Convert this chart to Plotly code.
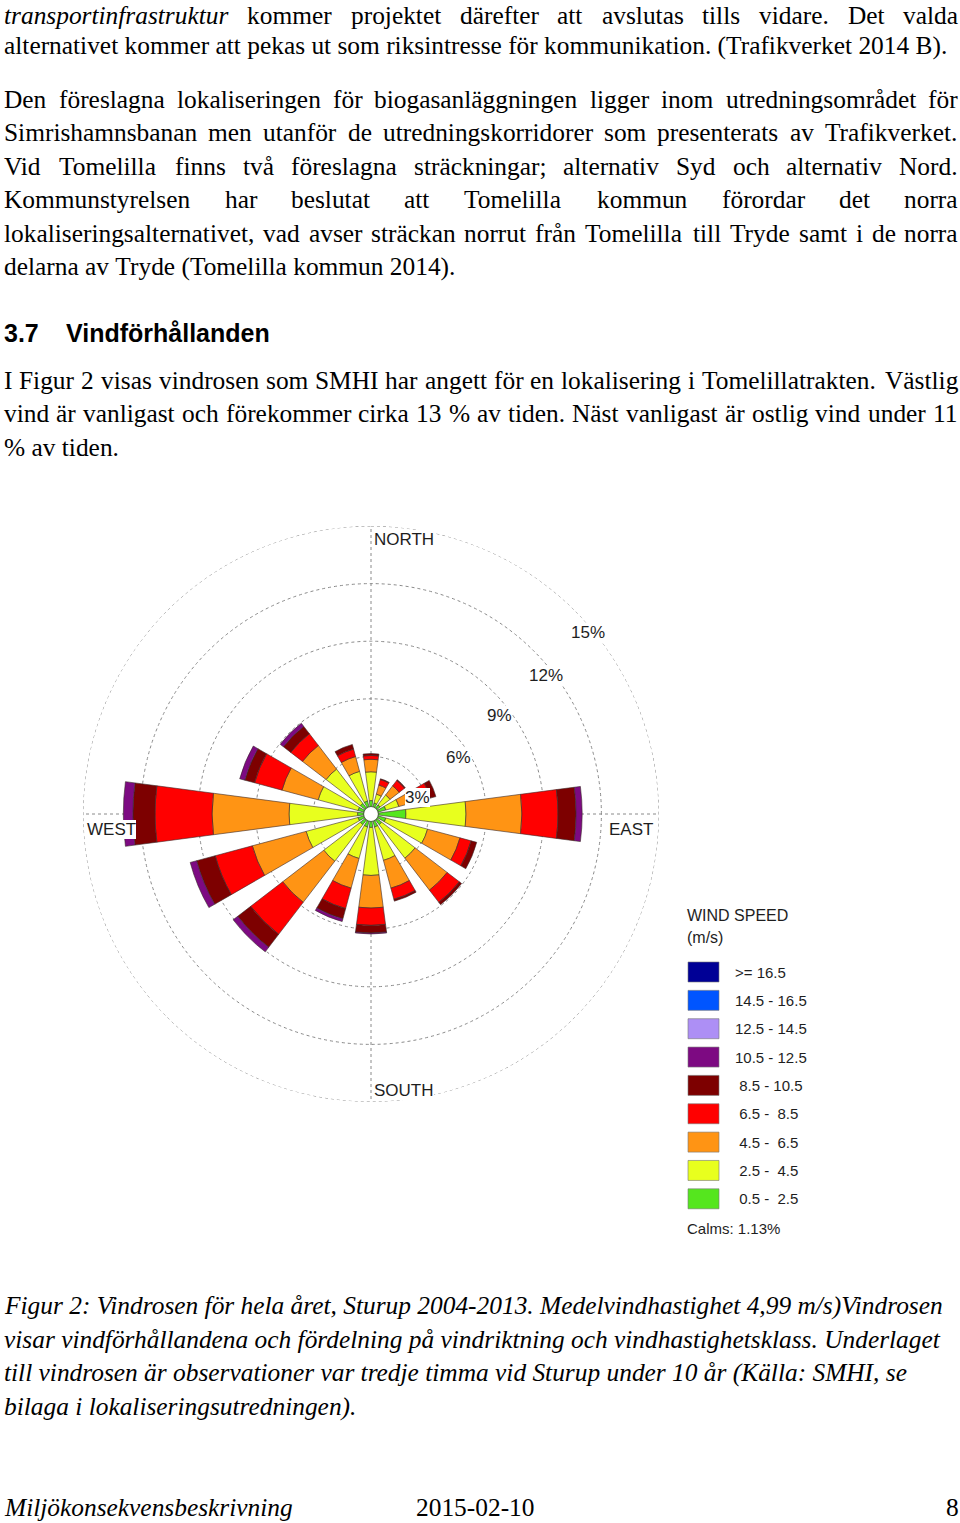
import plotly.graph_objects as go

W, H = 960, 1523

# ---------------- data ----------------
directions = ["N", "NNE", "NE", "ENE", "E", "ESE", "SE", "SSE",
              "S", "SSW", "SW", "WSW", "W", "WNW", "NW", "NNW"]
theta_deg = [0, 22.5, 45, 67.5, 90, 112.5, 135, 157.5,
             180, 202.5, 225, 247.5, 270, 292.5, 315, 337.5]

speed_labels = [">= 16.5", "14.5 - 16.5", "12.5 - 14.5", "10.5 - 12.5",
                " 8.5 - 10.5", " 6.5 -  8.5", " 4.5 -  6.5", " 2.5 -  4.5", " 0.5 -  2.5"]
speed_colors = ["#000096", "#0055ff", "#ad8ff5", "#7d0a82", "#7d0000",
                "#ff0000", "#ff9414", "#e8ff1e", "#55e61e"]

# frequency (% of time) per direction and speed class
f_0_5_2_5 = [0.70, 0.60, 0.60, 0.80, 1.82, 0.80, 0.70, 0.70, 0.70, 0.70, 0.70, 0.70, 0.70, 0.70, 0.70, 0.70]
f_2_5_4_5 = [1.50, 0.47, 0.65, 0.70, 3.13, 2.25, 2.20, 1.80, 2.50, 1.70, 2.40, 2.80, 3.57, 2.15, 2.25, 1.60]
f_4_5_6_5 = [0.65, 0.49, 0.60, 0.90, 2.91, 1.75, 2.10, 1.50, 1.70, 1.60, 2.70, 2.90, 4.01, 1.95, 1.55, 0.80]
f_6_5_8_5 = [0.20, 0.30, 0.35, 0.80, 1.88, 0.60, 0.80, 0.60, 0.90, 1.10, 2.10, 2.00, 2.97, 1.48, 0.77, 0.40]
f_8_5_10_5 = [0.10, 0.04, 0.05, 0.30, 0.94, 0.30, 0.15, 0.10, 0.40, 0.55, 0.85, 1.00, 1.15, 0.52, 0.48, 0.25]
f_10_5_12_5 = [0, 0, 0, 0, 0.32, 0, 0, 0, 0.05, 0.15, 0.30, 0.35, 0.50, 0.28, 0.21, 0]
f_12_5_14_5 = [0] * 16
f_14_5_16_5 = [0] * 16
f_16_5 = [0] * 16
calms = 1.13

radial_ticks = [3, 6, 9, 12, 15]

# low -> high speed (stack order)
series = [f_0_5_2_5, f_2_5_4_5, f_4_5_6_5, f_6_5_8_5, f_8_5_10_5,
          f_10_5_12_5, f_12_5_14_5, f_14_5_16_5, f_16_5]
series_colors = list(reversed(speed_colors))
series_names = list(reversed(speed_labels))

fig = go.Figure()

# outer dotted ring (15 %), plotly omits the grid circle at the range edge
ring_theta = list(range(0, 361, 1))
fig.add_trace(go.Scatterpolar(r=[radial_ticks[-1]] * len(ring_theta), theta=ring_theta, mode="lines",
                              line=dict(color="#8a8a8a", width=1, dash="dot"),
                              showlegend=False, hoverinfo="skip"))

for vals, col, name in zip(series, series_colors, series_names):
    fig.add_trace(go.Barpolar(
        r=vals, theta=theta_deg, width=[15] * 16, name=name,
        marker=dict(color=col, line=dict(color="#3a2a2a", width=0.6 if max(vals) > 0 else 0)),
        showlegend=False, hoverinfo="skip"))

fig.add_trace(go.Scatterpolar(r=[0], theta=[0], mode="markers",
                              marker=dict(size=15, color="white", line=dict(color="#4a6a3a", width=1.2)),
                              showlegend=False, hoverinfo="skip"))

cx, cy, R = 371, 814, 288
fig.update_layout(
    width=W, height=H, margin=dict(l=0, r=0, t=0, b=0),
    paper_bgcolor="white", plot_bgcolor="white",
    polar=dict(
        domain=dict(x=[(cx - R) / W, (cx + R) / W], y=[1 - (cy + R) / H, 1 - (cy - R) / H]),
        bgcolor="white", barmode="stack", bargap=0,
        radialaxis=dict(range=[0, 15], tickvals=radial_ticks, showticklabels=False, ticks="",
                        showline=False, gridcolor="#8a8a8a", griddash="dot", gridwidth=1),
        angularaxis=dict(rotation=90, direction="clockwise", tickvals=[0, 90, 180, 270],
                         showticklabels=False, ticks="", showline=False,
                         gridcolor="#8a8a8a", griddash="dot", gridwidth=1),
    ),
)

ann = []
shapes = []
BODY = 25.4


def px(x):
    return x / W


def py(y):
    return 1 - y / H


def add_text(x, y, text, size=BODY, family="Liberation Serif", italic=False, bold=False,
             color="black", xanchor="left", bg=None):
    t = text.replace(" ", "\u00a0")
    if bold:
        t = "<b>" + t + "</b>"
    if italic:
        t = "<i>" + t + "</i>"
    d = dict(x=px(x), y=py(y), xref="paper", yref="paper", text=t, showarrow=False,
             xanchor=xanchor, yanchor="middle", borderpad=0, borderwidth=0,
             font=dict(family=family, size=size, color=color))
    if bg:
        d["bgcolor"] = bg
    ann.append(d)


# Times (Liberation Serif metric-compatible) widths
TR = {' ': 250, '!': 333, '%': 833, '(': 333, ')': 333, ',': 250, '-': 333, '.': 250, '/': 278,
      ':': 278, ';': 278, '=': 564, '>': 564,
      'A': 722, 'B': 667, 'C': 667, 'D': 722, 'E': 611, 'F': 556, 'G': 722, 'H': 722, 'I': 333,
      'J': 389, 'K': 722, 'L': 611, 'M': 889, 'N': 722, 'O': 722, 'P': 556, 'Q': 722, 'R': 667,
      'S': 556, 'T': 611, 'U': 722, 'V': 722, 'W': 944, 'X': 722, 'Y': 722, 'Z': 611,
      'a': 444, 'b': 500, 'c': 444, 'd': 500, 'e': 444, 'f': 333, 'g': 500, 'h': 500, 'i': 278,
      'j': 278, 'k': 500, 'l': 278, 'm': 778, 'n': 500, 'o': 500, 'p': 500, 'q': 500, 'r': 333,
      's': 389, 't': 278, 'u': 500, 'v': 500, 'w': 722, 'x': 500, 'y': 500, 'z': 444,
      'å': 444, 'ä': 444, 'ö': 500, 'Å': 722, 'Ä': 722, 'Ö': 722}
for d in "0123456789":
    TR[d] = 500
TI = {' ': 250, 'a': 500, 'b': 500, 'c': 444, 'd': 500, 'e': 444, 'f': 278, 'g': 500, 'h': 500,
      'i': 278, 'j': 278, 'k': 444, 'l': 278, 'm': 722, 'n': 500, 'o': 500, 'p': 500, 'q': 500,
      'r': 389, 's': 389, 't': 278, 'u': 500, 'v': 444, 'w': 667, 'x': 444, 'y': 444, 'z': 389}


def wwidth(word, italic, size):
    tab = TI if italic else TR
    return sum(tab.get(c, 500) for c in word) * size / 1000.0


def justified(y, words, left=4, right=958, size=BODY, italic_first=False):
    widths = [wwidth(w, italic_first and i == 0, size) for i, w in enumerate(words)]
    gap = (right - left - sum(widths)) / (len(words) - 1)
    x = left
    for i, w in enumerate(words):
        add_text(x, y, w, size=size, italic=(italic_first and i == 0))
        x += widths[i] + gap


body = [
    (15, "transportinfrastruktur kommer projektet därefter att avslutas tills vidare. Det valda", True, True),
    (45, "alternativet kommer att pekas ut som riksintresse för kommunikation. (Trafikverket 2014 B).", False, False),
    (99, "Den föreslagna lokaliseringen för biogasanläggningen ligger inom utredningsområdet för", True, False),
    (132, "Simrishamnsbanan men utanför de utredningskorridorer som presenterats av Trafikverket.", True, False),
    (166, "Vid Tomelilla finns två föreslagna sträckningar; alternativ Syd och alternativ Nord.", True, False),
    (199, "Kommunstyrelsen har beslutat att Tomelilla kommun förordar det norra", True, False),
    (233, "lokaliseringsalternativet, vad avser sträckan norrut från Tomelilla till Tryde samt i de norra", True, False),
    (266, "delarna av Tryde (Tomelilla kommun 2014).", False, False),
    (380, "I Figur 2 visas vindrosen som SMHI har angett för en lokalisering i Tomelillatrakten. Västlig", True, False),
    (413, "vind är vanligast och förekommer cirka 13 % av tiden. Näst vanligast är ostlig vind under 11", True, False),
    (447, "% av tiden.", False, False),
]
for y, line, just, itf in body:
    if just:
        justified(y, line.split(" "), italic_first=itf)
    else:
        add_text(4, y, line)

add_text(4, 333, "3.7", size=25, family="Liberation Sans", bold=True)
add_text(66, 333, "Vindförhållanden", size=25, family="Liberation Sans", bold=True)

caption = [
    (1305, "Figur 2: Vindrosen för hela året, Sturup 2004-2013. Medelvindhastighet 4,99 m/s)Vindrosen"),
    (1339, "visar vindförhållandena och fördelning på vindriktning och vindhastighetsklass. Underlaget"),
    (1372, "till vindrosen är observationer var tredje timma vid Sturup under 10 år (Källa: SMHI, se"),
    (1406, "bilaga i lokaliseringsutredningen)."),
]
for y, line in caption:
    add_text(4, y, line, italic=True)

add_text(4, 1507, "Miljökonsekvensbeskrivning", italic=True)
add_text(416, 1507, "2015-02-10")
add_text(959, 1507, "8", xanchor="right")

# compass labels
sans = "Liberation Sans"
lab_col = "#1e1e1e"
add_text(374, 539, "NORTH", size=17, family=sans, color=lab_col, bg="white")
add_text(374, 1090, "SOUTH", size=17, family=sans, color=lab_col, bg="white")
add_text(87, 829, "WEST", size=17, family=sans, color=lab_col, bg="white")
add_text(609, 829, "EAST", size=17, family=sans, color=lab_col, bg="white")

# radial ring labels
ring_pos = [(405, 797), (446, 757), (487, 716), (529, 675), (571, 633)]
for (x, y), v in zip(ring_pos, radial_ticks):
    add_text(x, y, f"{v}%", size=17, family=sans, color=lab_col, bg="white")

# speed legend
add_text(687, 915, "WIND SPEED", size=16, family=sans, color=lab_col)
add_text(687, 938, "(m/s)", size=16, family=sans, color=lab_col)
for i, (lab, col) in enumerate(zip(speed_labels, speed_colors)):
    yc = 972 + i * 28.35
    shapes.append(dict(type="rect", xref="paper", yref="paper",
                       x0=px(688), x1=px(719), y0=py(yc + 10), y1=py(yc - 10),
                       fillcolor=col, line=dict(color="#777777", width=0.6)))
    add_text(735, yc, lab, size=15, family=sans, color=lab_col)
add_text(687, 1228, f"Calms: {calms}%", size=15, family=sans, color=lab_col)

fig.update_layout(annotations=ann, shapes=shapes)
fig.write_html("out.html")
